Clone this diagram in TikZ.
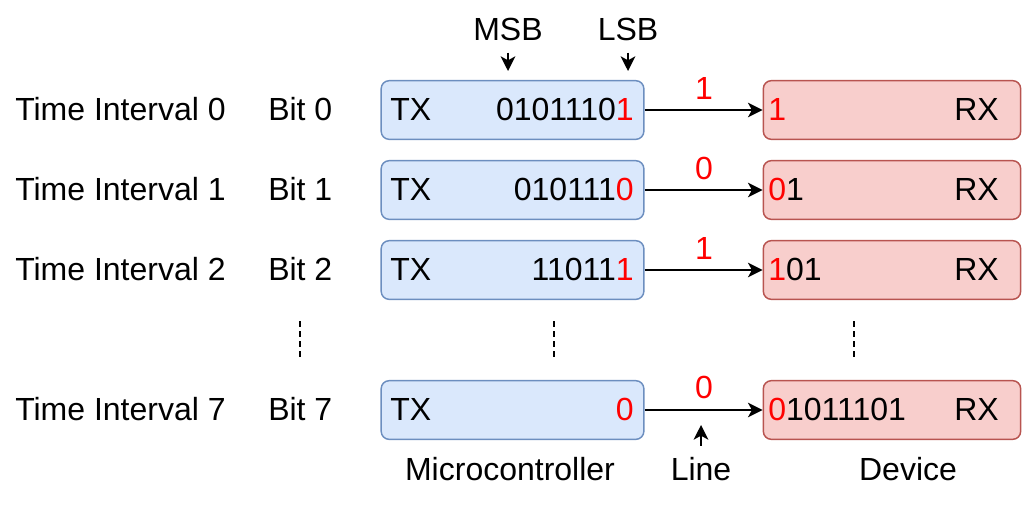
\documentclass[tikz,border=0pt]{standalone}
\usepackage{fontspec}
\setmainfont{Liberation Sans}
\usetikzlibrary{arrows.meta}
\definecolor{bfill}{HTML}{DAE8FC}
\definecolor{bdraw}{HTML}{6C8EBF}
\definecolor{rfill}{HTML}{F8CECC}
\definecolor{rdraw}{HTML}{B85450}
\definecolor{hot}{HTML}{FF0000}
\begin{document}
\begin{tikzpicture}[x=0.75pt,y=-0.75pt,
  font=\fontsize{24}{28}\selectfont,
  txbox/.style={draw=bdraw, fill=bfill, rounded corners=6pt, line width=1.1pt,
    minimum width=197pt, minimum height=44pt, inner sep=0pt},
  rxbox/.style={draw=rdraw, fill=rfill, rounded corners=6pt, line width=1.1pt,
    minimum width=193pt, minimum height=44pt, inner sep=0pt},
  lbl/.style={inner sep=0pt},
  bitlbl/.style={inner sep=0pt, text=hot, anchor=base},
  conn/.style={line width=1.4pt, -{Stealth[length=11pt,width=11pt,inset=3pt]}},
  dots/.style={line width=0.9pt, dash pattern=on 4.5pt off 3pt}
]
\useasboundingbox (0,0) rectangle (1024,504);

% top labels
\node[lbl, anchor=base] (msb) at (508,40) {MSB};
\node[lbl, anchor=base] (lsb) at (628,40) {LSB};
\coordinate (msbt) at (508,71);
\coordinate (lsbt) at (628,71);
\draw[conn, shorten <=9pt] (msb.south) -- (msbt);
\draw[conn, shorten <=9pt] (lsb.south) -- (lsbt);

% row labels
\node[lbl, anchor=base west] (ti0) at (15,120) {Time Interval 0};
\node[lbl, anchor=base west] (ti1) at (15,200) {Time Interval 1};
\node[lbl, anchor=base west] (ti2) at (15,280) {Time Interval 2};
\node[lbl, anchor=base west] (ti7) at (15,420) {Time Interval 7};
\node[lbl, anchor=base west] (b0) at (268,120) {Bit 0};
\node[lbl, anchor=base west] (b1) at (268,200) {Bit 1};
\node[lbl, anchor=base west] (b2) at (268,280) {Bit 2};
\node[lbl, anchor=base west] (b7) at (268,420) {Bit 7};

% boxes
\foreach \n/\y in {0/110,1/190,2/270,7/410}{
  \node[txbox] (tx\n) at (512.5,\y) {};
  \node[rxbox] (rx\n) at (892,\y) {};
  \node[lbl, anchor=base west] (txl\n) at (390,\y+10) {TX};
  \node[lbl, anchor=base east] (rxl\n) at (999,\y+10) {RX};
  \draw[conn] (tx\n.east) -- (rx\n.west);
}

% transmitted contents
\node[lbl, anchor=base east] (txd0) at (634,120) {0101110\textcolor{hot}{1}};
\node[lbl, anchor=base east] (txd1) at (634,200) {010111\textcolor{hot}{0}};
\node[lbl, anchor=base east] (txd2) at (634,280) {11011\textcolor{hot}{1}};
\node[lbl, anchor=base east] (txd7) at (634,420) {\textcolor{hot}{0}};

% received contents
\node[lbl, anchor=base west] (rxd0) at (768,120) {\textcolor{hot}{1}};
\node[lbl, anchor=base west] (rxd1) at (768,200) {\textcolor{hot}{0}1};
\node[lbl, anchor=base west] (rxd2) at (768,280) {\textcolor{hot}{1}01};
\node[lbl, anchor=base west] (rxd7) at (768,420) {\textcolor{hot}{0}1011101};

% bits on the line
\node[bitlbl] (ln0) at (704,99) {1};
\node[bitlbl] (ln1) at (704,179) {0};
\node[bitlbl] (ln2) at (704,259) {1};
\node[bitlbl] (ln7) at (704,398) {0};

% dotted continuation
\coordinate (d1a) at (300,321); \coordinate (d1b) at (300,361);
\coordinate (d2a) at (554,321); \coordinate (d2b) at (554,361);
\coordinate (d3a) at (854,321); \coordinate (d3b) at (854,361);
\draw[dots] (d1a) -- (d1b);
\draw[dots] (d2a) -- (d2b);
\draw[dots] (d3a) -- (d3b);

% bottom labels
\node[lbl, anchor=base] (mc) at (510,480) {Microcontroller};
\node[lbl, anchor=base] (line) at (701,480) {Line};
\node[lbl, anchor=base] (dev) at (908,480) {Device};
\coordinate (linet) at (701,425);
\draw[conn, shorten <=8pt] (line.north) -- (linet);
\end{tikzpicture}
\end{document}
